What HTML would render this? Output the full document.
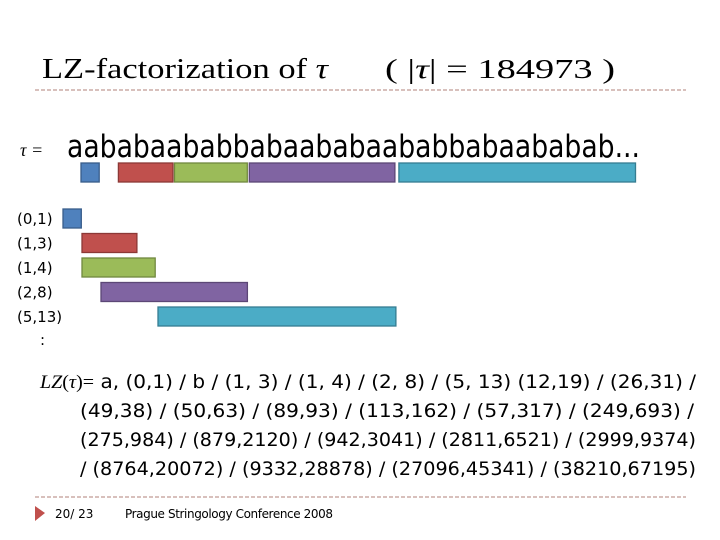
<!DOCTYPE html>
<html><head><meta charset="utf-8"><style>
html,body{margin:0;padding:0;background:#fff;}
svg{display:block;}
.sans{font-family:"DejaVu Sans","Liberation Sans",sans-serif;}
.serif{font-family:"Liberation Serif",serif;}
</style></head><body>
<svg id="slide" width="720" height="540" viewBox="0 0 720 540" xmlns="http://www.w3.org/2000/svg">
<text class="serif" x="42" y="78" font-size="28" fill="#000" textLength="286" lengthAdjust="spacingAndGlyphs">LZ-factorization of <tspan font-style="italic">τ</tspan></text>
<text class="serif" x="385" y="78" font-size="27" fill="#000" textLength="230" lengthAdjust="spacingAndGlyphs">( |<tspan font-style="italic">τ</tspan>| = 184973 )</text>
<line x1="35" y1="90" x2="686" y2="90" stroke="#b08078" stroke-width="1" stroke-dasharray="4,2"/>
<text class="serif" x="20" y="156" font-size="18" font-style="italic">τ =</text>
<text class="sans" x="67" y="157" font-size="31" textLength="573" lengthAdjust="spacingAndGlyphs">aababaababbabaababaababbabaababab...</text>
<g id="topBars"></g>
<g id="srcBars"></g>
<g id="labels"></g>
<text class="sans" x="40" y="345" font-size="15">:</text>
<g class="sans" font-size="19">
<text x="40" y="388" textLength="656" lengthAdjust="spacingAndGlyphs"><tspan class="serif" font-style="italic">LZ</tspan><tspan class="serif">(</tspan><tspan class="serif" font-style="italic">τ</tspan><tspan class="serif">)=</tspan> a, (0,1) / b / (1, 3) / (1, 4) / (2, 8) / (5, 13) (12,19) / (26,31) /</text>
<text x="80" y="417" textLength="614" lengthAdjust="spacingAndGlyphs">(49,38) / (50,63) / (89,93) / (113,162) / (57,317) / (249,693) /</text>
<text x="80" y="446" textLength="616" lengthAdjust="spacingAndGlyphs">(275,984) / (879,2120) / (942,3041) / (2811,6521) / (2999,9374)</text>
<text x="80" y="475" textLength="616" lengthAdjust="spacingAndGlyphs">/ (8764,20072) / (9332,28878) / (27096,45341) / (38210,67195)</text>
</g>
<line x1="35" y1="497" x2="686" y2="497" stroke="#b08078" stroke-width="1" stroke-dasharray="4,2"/>
<polygon points="35,506 45,513 35,521" fill="#c0504d"/>
<text class="sans" x="55" y="518" font-size="12">20/ 23</text>
<text class="sans" x="125" y="518" font-size="12" textLength="208">Prague Stringology Conference 2008</text>
</svg>
<script>
const labels=["(0,1)","(1,3)","(1,4)","(2,8)","(5,13)"];
const srcPos=[0,1,1,2,5];
const lens=[1,3,4,8,13];
const destPos=[1,3,6,10,18];
const fills=["#4f81bd","#c0504d","#9bbb59","#8064a2","#4bacc6"];
const strokes=["#385d8a","#8c3836","#71893f","#5c4776","#357d91"];
const NS="http://www.w3.org/2000/svg";
const topX=p=>62.3+p*18.7, topW=l=>l*18.2;
const srcX=p=>63+p*19, srcW=l=>l*18.3;
const rowY=i=>209+i*24.5;
const tb=document.getElementById('topBars'),sb=document.getElementById('srcBars'),lb=document.getElementById('labels');
for(let i=0;i<lens.length;i++){
 let r=document.createElementNS(NS,'rect');
 
 
 r.setAttribute('x',topX(destPos[i]));r.setAttribute('y',163);
 r.setAttribute('width',topW(lens[i]));r.setAttribute('height',19);
 r.setAttribute('fill',fills[i]);r.setAttribute('stroke',strokes[i]);r.setAttribute('stroke-width',1.3);
 tb.appendChild(r);
 let s=document.createElementNS(NS,'rect');
 
 
 s.setAttribute('x',srcX(srcPos[i]));s.setAttribute('y',rowY(i));
 s.setAttribute('width',srcW(lens[i]));s.setAttribute('height',19);
 s.setAttribute('fill',fills[i]);s.setAttribute('stroke',strokes[i]);s.setAttribute('stroke-width',1.3);
 sb.appendChild(s);
 let t=document.createElementNS(NS,'text');
 
 
 t.setAttribute('x',17);t.setAttribute('y',rowY(i)+15);
 t.setAttribute('font-size',15);t.setAttribute('class','sans');
 t.textContent=labels[i];
 lb.appendChild(t);
}
</script>
</body></html>
